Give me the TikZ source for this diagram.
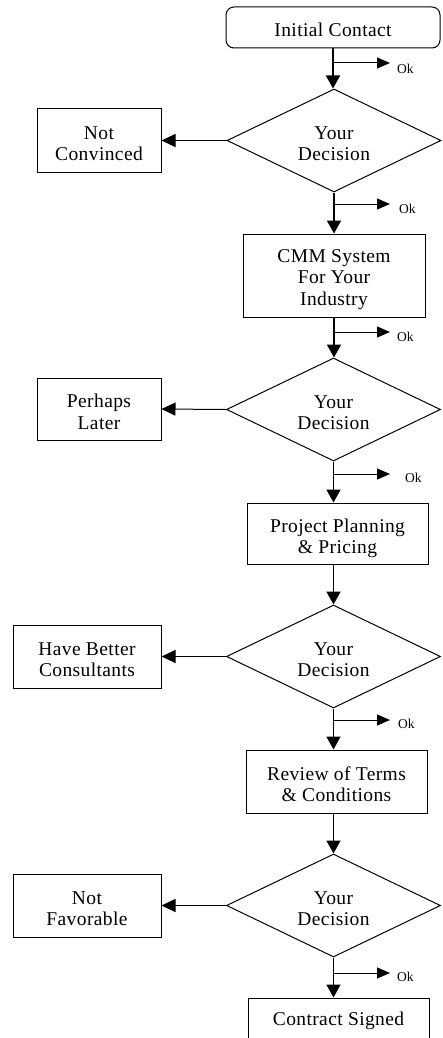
\documentclass[tikz,border=0pt]{standalone}
\usepackage{fontspec}
\setmainfont{Liberation Serif}
\newfontfamily\boxfont[LetterSpace=2]{Liberation Serif}
\usetikzlibrary{arrows.meta,shapes.geometric}
\newcommand{\tl}[2][-5pt]{\raisebox{#1}[\height][\depth]{\begin{tabular}{@{}c@{}}#2\end{tabular}}}
\begin{document}
\begin{tikzpicture}[x=1pt,y=-1pt,
  txt/.style={font=\boxfont\fontsize{19.5}{21.5}\selectfont, inner sep=0pt},
  box/.style={txt, draw, line width=1pt},
  startbox/.style={box, rounded corners=8pt},
  dec/.style={txt, draw, line width=1pt, diamond, shape aspect=2, minimum width=214pt, minimum height=103pt},
  flow/.style={-{Triangle[length=13pt,width=14pt]}, line width=1.8pt},
  okarrow/.style={-{Triangle[length=13pt,width=11pt]}, line width=1pt},
  side/.style={-{Triangle[length=14pt,width=13pt]}, line width=1pt},
  oklab/.style={font=\fontsize{13.5}{15}\selectfont, anchor=west, inner sep=0pt}]
\useasboundingbox (0,0) rectangle (442,1038);
\clip (0,0) rectangle (442,1038);

% nodes
\node[startbox, minimum width=214pt, minimum height=41pt] (init) at (333,27.5) {\tl{Initial Contact}};
\node[dec] (d1) at (334,140.5) {\tl{Your\\Decision}};
\node[box, minimum width=124pt, minimum height=63pt] (nc) at (99,140.5) {\tl{Not\\Convinced}};
\node[box, minimum width=182pt, minimum height=83pt] (cmm) at (334,275.5) {\tl[-4pt]{CMM System\\For Your\\Industry}};
\node[dec] (d2) at (333.5,409.5) {\tl{Your\\Decision}};
\node[box, minimum width=124pt, minimum height=62pt] (pl) at (99,409) {\tl{Perhaps\\Later}};
\node[box, minimum width=181pt, minimum height=61pt] (ppp) at (337.5,533.5) {\tl{Project Planning\\\& Pricing}};
\node[dec] (d3) at (333.5,656.5) {\tl{Your\\Decision}};
\node[box, minimum width=148pt, minimum height=63pt] (hbc) at (87,656.5) {\tl{Have Better\\Consultants}};
\node[box, minimum width=181pt, minimum height=63pt] (rtc) at (336.5,781.5) {\tl{Review of Terms\\\& Conditions}};
\node[dec] (d4) at (333.5,905.5) {\tl{Your\\Decision}};
\node[box, minimum width=148pt, minimum height=63pt] (nf) at (87,905.5) {\tl{Not\\Favorable}};
\node[box, minimum width=181pt, minimum height=63pt] (cs) at (338.5,1029.5) {\tl[8.5pt]{Contract Signed}};

% main flow
\draw[flow] (init.south) -- (init.south |- d1.north);
\draw[flow] (d1.south) -- (d1.south |- cmm.north);
\draw[flow] (cmm.south) -- (cmm.south |- d2.north);
\draw[flow] (d2.south) -- (d2.south |- ppp.north);
\draw[flow] (ppp.south -| d3.north) -- (d3.north);
\draw[flow] (d3.south) -- (d3.south |- rtc.north);
\draw[flow] (rtc.south -| d4.north) -- (d4.north);
\draw[flow] (d4.south) -- (d4.south |- cs.north);

% side exits
\draw[side] (d1.west) -- (nc.east);
\draw[side] (d2.west) -- (pl.east);
\draw[side] (d3.west) -- (hbc.east);
\draw[side] (d4.west) -- (nf.east);

% Ok branches
\coordinate (o1s) at (333,63);   \coordinate (o1e) at (390,63);
\coordinate (o2s) at (334,204);  \coordinate (o2e) at (390,204);
\coordinate (o3s) at (334,332);  \coordinate (o3e) at (390,332);
\coordinate (o4s) at (334,474);  \coordinate (o4e) at (390,474);
\coordinate (o5s) at (334,720);  \coordinate (o5e) at (390,720);
\coordinate (o6s) at (334,973);  \coordinate (o6e) at (390,973);
\draw[okarrow] (o1s) -- (o1e);
\draw[okarrow] (o2s) -- (o2e);
\draw[okarrow] (o3s) -- (o3e);
\draw[okarrow] (o4s) -- (o4e);
\draw[okarrow] (o5s) -- (o5e);
\draw[okarrow] (o6s) -- (o6e);
\node[oklab] (ok1) at (397,68.5) {Ok};
\node[oklab] (ok2) at (399,208.5) {Ok};
\node[oklab] (ok3) at (397,337) {Ok};
\node[oklab] (ok4) at (405,478) {Ok};
\node[oklab] (ok5) at (398,723.5) {Ok};
\node[oklab] (ok6) at (397,977) {Ok};
\end{tikzpicture}
\end{document}
